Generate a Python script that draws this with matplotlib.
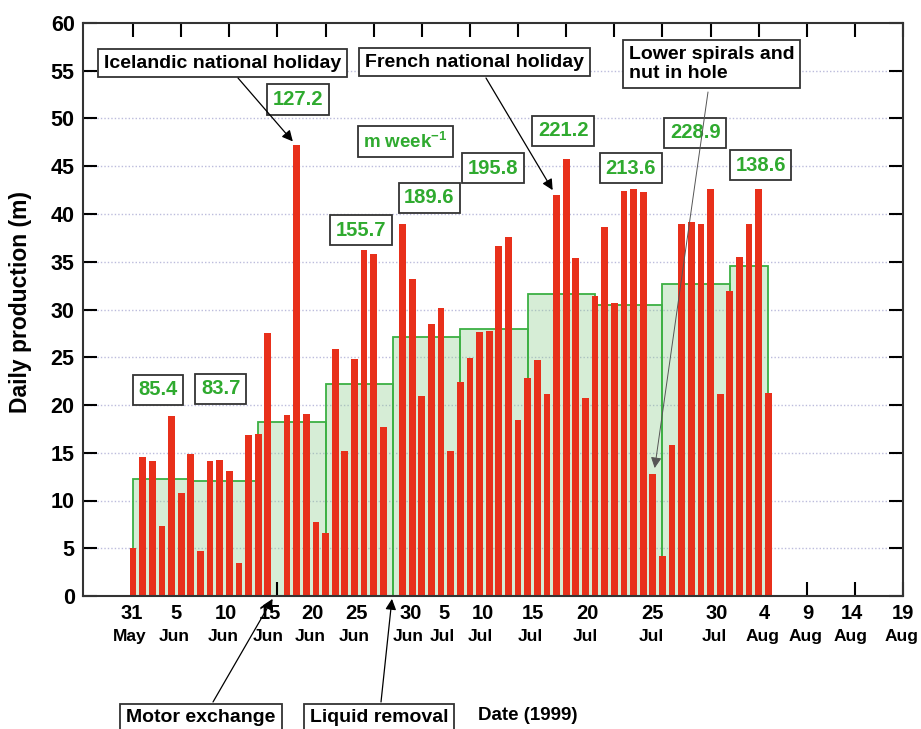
import matplotlib
matplotlib.use('Agg')
import matplotlib.pyplot as plt
import numpy as np

# Daily production (m), one value per day from 31 May 1999 (0 = nothing drilled)
daily_m = [5.0, 14.6, 14.1, 7.3, 18.9, 10.8, 14.9, 4.7, 14.1, 14.2,
           13.1, 3.5, 16.9, 17.0, 27.5, 0.0, 19.0, 47.2, 19.1, 7.7,
           6.6, 25.9, 15.2, 24.8, 36.2, 35.8, 17.7, 0.0, 39.0, 33.2,
           20.9, 28.5, 30.2, 15.2, 22.4, 24.9, 27.6, 27.7, 36.6, 37.6,
           18.4, 22.8, 24.7, 21.1, 42.0, 45.8, 35.4, 20.7, 31.4, 38.6,
           30.7, 42.4, 42.6, 42.3, 12.8, 4.2, 15.8, 39.0, 39.2, 39.0,
           42.6, 21.2, 31.9, 35.5, 39.0, 42.6, 21.3]

# Weekly mean per day (green steps), edges in days since 31 May
week_edges = [0, 6, 13, 20, 27, 34, 41, 48, 55, 62, 66, 76]
week_level = [12.2, 12.0, 18.2, 22.2, 27.1, 28.0, 31.6, 30.5, 32.7, 34.6, 0.0]
week_totals = ['85.4', '83.7', '127.2', '155.7', '189.6', '195.8',
               '221.2', '213.6', '228.9', '138.6']

# Date axis labels
date_nums = ['31', '5', '10', '15', '20', '25', '30', '5', '10', '15',
             '20', '25', '30', '4', '9', '14', '19']
date_months = ['May', 'Jun', 'Jun', 'Jun', 'Jun', 'Jun', 'Jun', 'Jul', 'Jul',
               'Jul', 'Jul', 'Jul', 'Jul', 'Aug', 'Aug', 'Aug', 'Aug']

# ---- layout ----
W, H = 921, 729
RED = '#e8301b'
GREEN = '#2faa2f'
plt.rcParams['font.family'] = 'Liberation Sans'
plt.rcParams['font.weight'] = 'bold'
plt.rcParams['mathtext.fontset'] = 'custom'
plt.rcParams['mathtext.rm'] = 'Liberation Sans:bold'
plt.rcParams['mathtext.bf'] = 'Liberation Sans:bold'


def fig_xy(px, py):
    # pixel position (from top left) -> figure fraction
    return px / W, 1 - py / H


fig = plt.figure(figsize=(W / 100, H / 100), dpi=100)
ax = fig.add_axes([83 / W, 1 - 596 / H, 820 / W, 573 / H])

# horizontal dotted grid
for y in range(5, 60, 5):
    ax.axhline(y, color='#bcbcdc', lw=1.0, ls=(0, (1, 1.5)), zorder=0)

# weekly mean steps
edges = np.array(week_edges)
ax.bar(edges[:-1], week_level, width=np.diff(edges), align='edge',
       facecolor=(0.55, 0.8, 0.55, 0.35), edgecolor='#3cb043', lw=1.3, zorder=1)

# daily bars
days = np.arange(len(daily_m))
ax.bar(days, daily_m, width=0.7, color=RED, zorder=2)

ax.set_xlim(-5.2, 80)
ax.set_ylim(0, 60)
ax.set_yticks(range(0, 61, 5))
ax.set_xticks(range(0, 81, 5))
ax.set_xticklabels([])
ax.tick_params(axis='y', direction='in', length=10, width=1.5, labelsize=15.5,
               left=True, right=True, pad=6)
ax.tick_params(axis='x', direction='in', length=10, width=1.5,
               top=True, bottom=True)
for s in ax.spines.values():
    s.set_linewidth(1.5)
    s.set_color('#333333')

# hand placed date labels
label_x = [-0.1, 4.5, 9.6, 14.2, 18.6, 23.2, 28.8, 32.3, 36.3, 41.5,
           47.2, 54.0, 60.6, 65.6, 70.1, 74.7, 80.0]
tr = ax.get_xaxis_transform()
for x, n, m in zip(label_x, date_nums, date_months):
    ax.text(x, -0.031, n, transform=tr, ha='center', va='center', fontsize=14.5)
    ax.text(x - 0.2, -0.071, m, transform=tr, ha='center', va='center', fontsize=12.5)

fig.text(*fig_xy(21, 302), 'Daily production (m)', rotation=90,
         ha='center', va='center', fontsize=16.5)
fig.text(*fig_xy(528, 716), 'Date (1999)', ha='center', va='center', fontsize=13.5)

# weekly totals boxes (day, value)
total_pos = [(2.6, 21.6), (9.1, 21.7), (17.1, 52.0), (23.7, 38.3), (30.8, 41.7),
             (37.4, 44.8), (44.7, 48.7), (51.7, 44.8), (58.4, 48.5), (65.2, 45.1)]
green_box = dict(boxstyle='square,pad=0.28', fc='white', ec='#333333', lw=1.3)
for (x, y), t in zip(total_pos, week_totals):
    ax.text(x, y, t, ha='center', va='center', fontsize=14.5, color=GREEN,
            bbox=green_box, zorder=5)
ax.text(28.3, 47.6, r'm week$^{-1}$', ha='center', va='center', fontsize=13.5,
        color=GREEN, bbox=green_box, zorder=5)

# event annotations
black_box = dict(boxstyle='square,pad=0.3', fc='white', ec='#333333', lw=1.3)
ax.text(9.3, 55.8, 'Icelandic national holiday', ha='center', va='center',
        fontsize=14, bbox=black_box, zorder=5)
ax.text(35.5, 55.9, 'French national holiday', ha='center', va='center',
        fontsize=14, bbox=black_box, zorder=5)
ax.text(60.1, 55.7, 'Lower spirals and\nnut in hole', ha='center', va='center',
        multialignment='left', fontsize=14, linespacing=1.15, bbox=black_box, zorder=5)
fig.text(*fig_xy(201, 718), 'Motor exchange', ha='center', va='center',
         fontsize=14, bbox=black_box)
fig.text(*fig_xy(379, 718), 'Liquid removal', ha='center', va='center',
         fontsize=14, bbox=black_box)

arrows = [((238, 78), (16.6, 47.6), 'k', 0.9),
          ((486, 78), (43.6, 42.5), 'k', 0.9),
          ((708, 92), (54.2, 13.4), '#555555', 0.7),
          ((213, 702), (14.5, -0.3), 'k', 0.9),
          ((381, 702), (26.9, -0.3), 'k', 0.9)]
for start, tip, col, lw in arrows:
    ax.annotate('', xy=tip, xycoords='data', xytext=fig_xy(*start),
                textcoords='figure fraction', annotation_clip=False,
                arrowprops=dict(arrowstyle='-|>', color=col, lw=lw,
                                mutation_scale=16, shrinkA=0, shrinkB=0),
                zorder=6)

fig.savefig('out.png', dpi=100)
